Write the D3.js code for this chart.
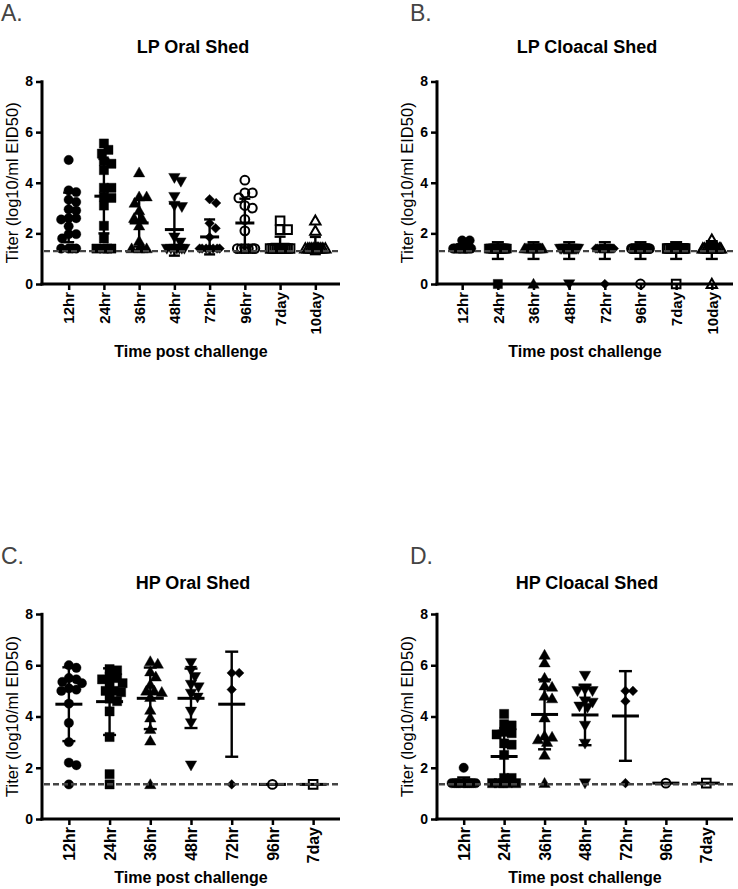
<!DOCTYPE html>
<html><head><meta charset="utf-8">
<script src="https://cdn.jsdelivr.net/npm/d3@7"></script>
<style>body{margin:0;background:#fff}svg{display:block}</style>
</head><body><svg id="c" width="738" height="889"></svg>
<script>
// ---------- data ----------
const catsLP = ["12hr","24hr","36hr","48hr","72hr","96hr","7day","10day"];
const catsHP = ["12hr","24hr","36hr","48hr","72hr","96hr","7day"];
const yTicks = [0,2,4,6,8];
const markers = ["circle","square","triangle","triangleDown","diamond","openCircle","openSquare","openTriangle"];

// A. LP Oral Shed
const lpOral = [
  [4.9,3.7,3.63,3.33,3.24,2.95,2.9,2.6,2.6,2.55,2.28,1.97,1.97,1.8,1.4,1.4,1.4,1.4],
  [5.55,5.3,5.15,4.85,4.75,4.5,3.8,3.8,3.45,3.4,3.1,2.3,1.8,1.4,1.4,1.4,1.4],
  [4.4,3.45,3.45,3.2,2.9,2.62,2.6,2.3,1.7,1.4,1.4,1.4,1.4],
  [4.2,4.05,3.45,3.1,3.05,1.85,1.65,1.4,1.4,1.4,1.4,1.4,1.4,1.4],
  [3.35,3.2,2.4,2.2,1.85,1.4,1.4,1.4,1.4,1.4,1.4,1.4],
  [4.1,3.6,3.6,3.4,3.1,3.0,2.55,2.1,1.4,1.4,1.4,1.4,1.4,1.4],
  [2.5,2.15,2.15,1.4,1.4,1.4,1.4,1.4,1.4,1.4,1.4,1.4,1.4,1.4,1.4],
  [2.5,2.1,1.4,1.4,1.4,1.4,1.4,1.4,1.4,1.4,1.4,1.4,1.4,1.4]
];
const lpOralMean = [2.63,3.47,2.41,2.15,1.86,2.41,1.57,1.52];
const lpOralSD   = [0.98,1.47,0.93,1.03,0.69,0.96,0.30,0.34];

// B. LP Cloacal Shed
const lpCloacal = [
  [1.72,1.72,1.4,1.4,1.4,1.4,1.4,1.4,1.4,1.4,1.4,1.4,1.4,1.4,1.4,1.4],
  [1.4,1.4,1.4,1.4,1.4,1.4,1.4,1.4,1.4,1.4,1.4,1.4,1.4,1.4,1.4,1.4,0],
  [1.4,1.4,1.4,1.4,1.4,1.4,1.4,1.4,1.4,1.4,1.4,1.4,1.4,1.4,1.4,1.4,0],
  [1.4,1.4,1.4,1.4,1.4,1.4,1.4,1.4,1.4,1.4,1.4,1.4,1.4,1.4,1.4,1.4,0],
  [1.4,1.4,1.4,1.4,1.4,1.4,1.4,1.4,1.4,1.4,1.4,1.4,1.4,1.4,1.4,1.4,0],
  [1.4,1.4,1.4,1.4,1.4,1.4,1.4,1.4,1.4,1.4,1.4,1.4,1.4,1.4,1.4,1.4,0],
  [1.4,1.4,1.4,1.4,1.4,1.4,1.4,1.4,1.4,1.4,1.4,1.4,1.4,1.4,1.4,1.4,0],
  [1.75,1.4,1.4,1.4,1.4,1.4,1.4,1.4,1.4,1.4,1.4,1.4,1.4,1.4,1.4,0]
];
const lpCloacalMean = [1.45,1.32,1.32,1.32,1.32,1.32,1.32,1.34];
const lpCloacalSD   = [0.12,0.33,0.33,0.33,0.33,0.33,0.33,0.35];

// C. HP Oral Shed
const hpOral = [
  [6.0,5.9,5.5,5.45,5.35,5.3,5.1,5.05,5.0,4.5,3.75,3.0,2.2,2.1,1.35],
  [5.85,5.8,5.55,5.5,5.45,5.3,5.25,5.0,5.0,4.95,4.7,4.6,4.2,3.2,1.75,1.35],
  [6.15,6.05,5.75,5.55,5.25,5.0,5.0,4.95,4.75,4.25,3.95,3.5,3.05,1.35],
  [6.1,5.8,5.55,5.25,5.15,4.9,4.75,4.2,3.75,2.1],
  [5.7,5.7,5.05,1.35],
  [1.35],
  [1.35]
];
const hpOralMean = [4.48,4.58,4.71,4.71,4.48,1.35,1.35];
const hpOralSD   = [1.44,1.30,1.20,1.16,2.05,0,0];

// D. HP Cloacal Shed
const hpCloacal = [
  [2.0,1.4,1.4,1.4,1.4,1.4,1.4,1.4,1.4,1.4,1.4,1.4,1.4],
  [4.1,3.7,3.65,3.4,3.35,3.3,2.95,2.9,2.5,1.6,1.6,1.4,1.4,1.4,1.4,1.4],
  [6.4,6.1,5.5,5.2,5.15,4.8,4.7,3.95,3.25,3.2,3.1,3.0,2.5,1.4],
  [5.6,5.05,5.0,5.0,4.6,4.55,4.4,4.35,3.65,2.95,1.4],
  [5.0,5.0,4.6,1.4],
  [1.4],
  [1.4]
];
const hpCloacalMean = [1.45,2.44,4.08,4.06,4.02,1.4,1.4];
const hpCloacalSD   = [0.17,1.0,1.36,1.18,1.75,0,0];

const lodLP = 1.3, lodHP = 1.355;

// ---------- layout ----------
const panels = [
  {label:"A.", lx:1, ly:21, title:"LP Oral Shed", cats:catsLP, data:lpOral, mean:lpOralMean, sd:lpOralSD, lod:lodLP,
   ax:42, xEnd:340, y0:284, y8:81.5, xr:[44,340], pad:0.7, titleY:53, xTitleY:357, meanW:19, capW:11, xFont:15, maxOff:10},
  {label:"B.", lx:410, ly:21, title:"LP Cloacal Shed", cats:catsLP, data:lpCloacal, mean:lpCloacalMean, sd:lpCloacalSD, lod:lodLP,
   ax:437, xEnd:733, y0:284, y8:81.5, xr:[439,735], pad:0.65, titleY:53, xTitleY:357, meanW:19, capW:12, xFont:15, maxOff:9},
  {label:"C.", lx:1, ly:564, title:"HP Oral Shed", cats:catsHP, data:hpOral, mean:hpOralMean, sd:hpOralSD, lod:lodHP,
   ax:42, xEnd:340, y0:819, y8:614, xr:[42,340], pad:0.66, titleY:589, xTitleY:883, meanW:27, capW:13, xFont:16, maxOff:13},
  {label:"D.", lx:410, ly:564, title:"HP Cloacal Shed", cats:catsHP, data:hpCloacal, mean:hpCloacalMean, sd:hpCloacalSD, lod:lodHP,
   ax:437, xEnd:733, y0:819, y8:614, xr:[437,733], pad:0.66, titleY:589, xTitleY:883, meanW:27, capW:13, xFont:16, maxOff:12}
];

const svg = d3.select("#c");
const FONT = "'Liberation Sans', Arial, Helvetica, sans-serif";

function markerPath(type) {
  const g = d3.path();
  switch (type) {
    case "circle": case "openCircle": { const r = type==="circle"?4.7:4.4; g.arc(0,0,r,0,2*Math.PI); g.closePath(); break; }
    case "square": case "openSquare": { const s = type==="square"?4.6:4.3; g.rect(-s,-s,2*s,2*s); break; }
    case "triangle": case "openTriangle": { const s = type==="triangle"?5.7:5.2; g.moveTo(0,-s); g.lineTo(s,s*0.75); g.lineTo(-s,s*0.75); g.closePath(); break; }
    case "triangleDown": { const s=5.7; g.moveTo(0,s); g.lineTo(s,-s*0.75); g.lineTo(-s,-s*0.75); g.closePath(); break; }
    case "diamond": { const s=4.8; g.moveTo(0,-s); g.lineTo(s,0); g.lineTo(0,s); g.lineTo(-s,0); g.closePath(); break; }
  }
  return g.toString();
}

function swarm(vals, y, maxOff, minD) {
  const order = vals.map((v,i)=>i).sort((a,b)=>vals[b]-vals[a]);
  const placed = [], out = new Array(vals.length);
  const cands = [0];
  for (let o=0.5; o<=maxOff; o+=0.5) { cands.push(o); cands.push(-o); }
  for (const i of order) {
    const py = y(vals[i]);
    let best = 0, bestD = -1, chosen = null;
    for (const c of cands) {
      let md = Infinity;
      for (const p of placed) { const d = Math.hypot(p[0]-c, p[1]-py); if (d<md) md=d; }
      if (md >= minD) { chosen = c; break; }
      if (md > bestD + 0.01) { bestD = md; best = c; }
    }
    const off = chosen===null ? best : chosen;
    placed.push([off, py]);
    out[i] = off;
  }
  return out;
}

panels.forEach(P => {
  const g = svg.append("g");
  const x = d3.scalePoint().domain(P.cats).range(P.xr).padding(P.pad);
  const y = d3.scaleLinear().domain([0,8]).range([P.y0, P.y8]);

  g.append("text").attr("x",P.lx).attr("y",P.ly).text(P.label)
    .attr("font-family",FONT).attr("font-size",23).attr("fill","#444");
  g.append("text").attr("x",(P.ax+P.xEnd)/2+2).attr("y",P.titleY).text(P.title)
    .attr("text-anchor","middle").attr("font-family",FONT).attr("font-weight","bold").attr("font-size",18).attr("fill","#000");

  const yAx = d3.axisLeft(y).tickValues(yTicks).tickSize(6).tickPadding(3).tickFormat(d3.format("d"));
  const ya = g.append("g").attr("transform",`translate(${P.ax},0)`).call(yAx);
  ya.select(".domain").remove();
  ya.selectAll(".tick line").attr("stroke","#000").attr("stroke-width",2.5);
  ya.selectAll(".tick text").attr("font-family",FONT).attr("font-weight","bold").attr("font-size",14).attr("fill","#000");
  g.append("line").attr("x1",P.ax).attr("x2",P.ax).attr("y1",P.y0+1.5).attr("y2",P.y8-1.2)
    .attr("stroke","#000").attr("stroke-width",3);

  const xAx = d3.axisBottom(x).tickSize(6).tickPadding(0);
  const xa = g.append("g").attr("transform",`translate(0,${P.y0})`).call(xAx);
  xa.select(".domain").remove();
  xa.selectAll(".tick line").attr("stroke","#000").attr("stroke-width",2.5);
  xa.selectAll(".tick text").attr("font-family",FONT).attr("font-weight","bold").attr("font-size",P.xFont).attr("fill","#000")
    .attr("text-anchor","end").attr("transform","translate(0,8) rotate(-90)").attr("x",0).attr("y",0).attr("dy","0.35em");
  g.append("line").attr("x1",P.ax-1.5).attr("x2",P.xEnd).attr("y1",P.y0).attr("y2",P.y0)
    .attr("stroke","#000").attr("stroke-width",3);

  g.append("text").attr("x",(P.ax+P.xEnd)/2).attr("y",P.xTitleY).text("Time post challenge")
    .attr("text-anchor","middle").attr("font-family",FONT).attr("font-weight","bold").attr("font-size",16).attr("fill","#000");
  g.append("text").attr("transform",`translate(${P.ax-24},${(P.y0+P.y8)/2}) rotate(-90)`).text("Titer (log10/ml EID50)")
    .attr("text-anchor","middle").attr("font-family",FONT).attr("font-size",16.5).attr("fill","#000");

  P.cats.forEach((c,i) => {
    const vals = P.data[i];
    const offs = swarm(vals, y, P.maxOff, 7.5);
    const type = markers[i];
    const open = type.startsWith("open");
    g.append("g").selectAll("path").data(vals).join("path")
      .attr("d", markerPath(type))
      .attr("transform",(v,j)=>`translate(${x(c)+offs[j]},${y(v)})`)
      .attr("fill", open ? "none" : "#000")
      .attr("stroke", "#000").attr("stroke-width", open ? 2 : 0.4);
  });

  P.cats.forEach((c,i) => {
    const cx = x(c), m = P.mean[i], s = P.sd[i];
    if (s > 0) {
      g.append("line").attr("x1",cx).attr("x2",cx).attr("y1",y(m+s)).attr("y2",y(m-s)).attr("stroke","#000").attr("stroke-width",2.4);
      [m+s, m-s].forEach(v => g.append("line").attr("x1",cx-P.capW/2).attr("x2",cx+P.capW/2).attr("y1",y(v)).attr("y2",y(v))
        .attr("stroke","#000").attr("stroke-width",2.4));
    }
    g.append("line").attr("x1",cx-P.meanW/2).attr("x2",cx+P.meanW/2).attr("y1",y(m)).attr("y2",y(m))
      .attr("stroke","#000").attr("stroke-width",3);
  });

  g.append("line").attr("x1",P.ax+2).attr("x2",P.xEnd).attr("y1",y(P.lod)).attr("y2",y(P.lod))
    .attr("stroke","#444").attr("stroke-width",2.4).attr("stroke-dasharray","6,3");
});
</script>
</body></html>
